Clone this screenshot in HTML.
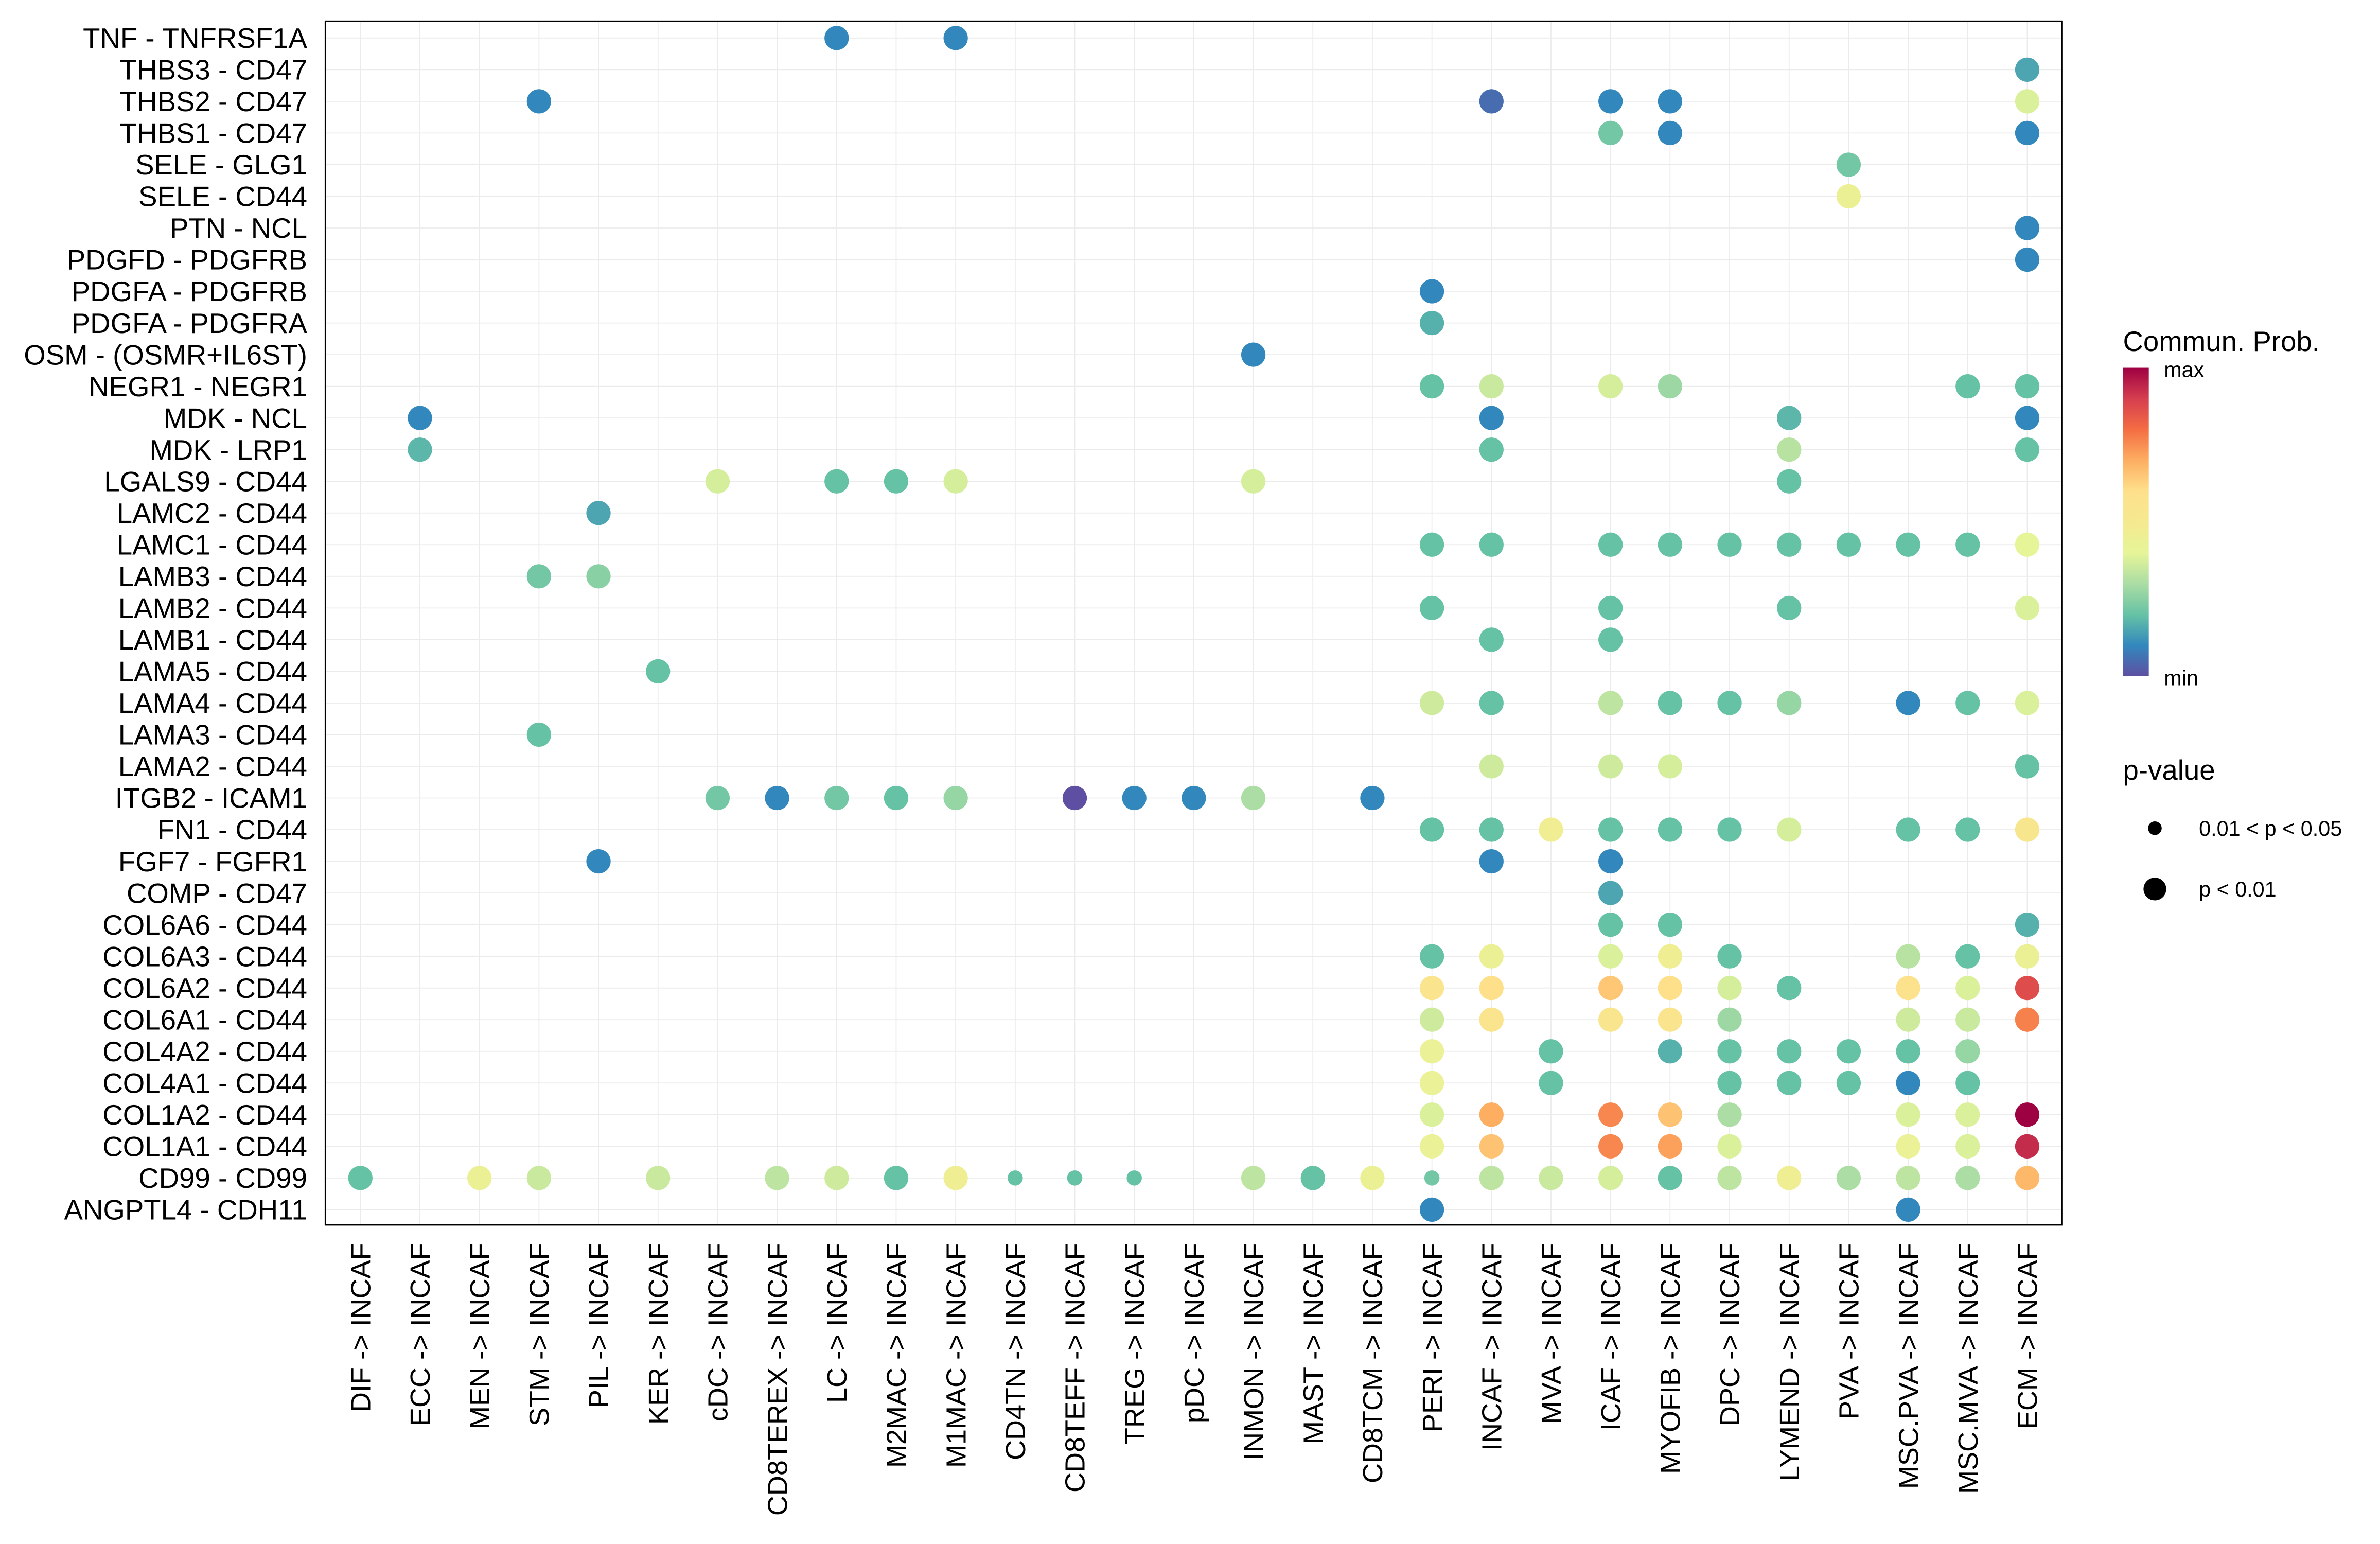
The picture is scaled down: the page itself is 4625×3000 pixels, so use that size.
<!DOCTYPE html>
<html><head><meta charset="utf-8"><style>
html,body{margin:0;padding:0;background:#fff;}
svg{display:block;font-family:"Liberation Sans",Arial,sans-serif;}
</style></head><body>
<svg id="chart" width="4625" height="3000" viewBox="0 0 1566 1016" xmlns="http://www.w3.org/2000/svg">
<defs>
<linearGradient id="cbar" x1="0" y1="1" x2="0" y2="0">
<stop offset="0" stop-color="#5e4fa2"/><stop offset="0.1" stop-color="#3288bd"/><stop offset="0.2" stop-color="#66c2a5"/><stop offset="0.3" stop-color="#abdda4"/><stop offset="0.4" stop-color="#e6f598"/><stop offset="0.5" stop-color="#f5e990"/><stop offset="0.6" stop-color="#fee08b"/><stop offset="0.7" stop-color="#fdae61"/><stop offset="0.8" stop-color="#f46d43"/><stop offset="0.9" stop-color="#d53e4f"/><stop offset="1" stop-color="#9e0142"/>
</linearGradient>
</defs>
<g id="grid"></g>
<rect x="214" y="14" width="1143" height="792" fill="none" stroke="#000" stroke-width="1"/>
<g id="dots"></g>
<g id="ylabels"></g>
<g id="xlabels"></g>
<g>
<text x="1397" y="231" font-size="18.5">Commun. Prob.</text>
<rect x="1397" y="242" width="17" height="203" fill="url(#cbar)"/>
<text x="1424" y="248" font-size="14">max</text>
<text x="1424" y="451" font-size="14">min</text>
</g>
<g>
<text x="1397" y="513" font-size="18.5">p-value</text>
<circle cx="1418" cy="545" r="4.5" fill="#000"/>
<text x="1447" y="550" font-size="14">0.01 &lt; p &lt; 0.05</text>
<circle cx="1418" cy="585" r="7.5" fill="#000"/>
<text x="1447" y="590" font-size="14">p &lt; 0.01</text>
</g>
</svg>
<script>
const columns = ["DIF","ECC","MEN","STM","PIL","KER","cDC","CD8TEREX","LC","M2MAC","M1MAC","CD4TN","CD8TEFF","TREG","pDC","INMON","MAST","CD8TCM","PERI","INCAF","MVA","ICAF","MYOFIB","DPC","LYMEND","PVA","MSC.PVA","MSC.MVA","ECM"];
const rows = ["TNF - TNFRSF1A","THBS3 - CD47","THBS2 - CD47","THBS1 - CD47","SELE - GLG1","SELE - CD44","PTN - NCL","PDGFD - PDGFRB","PDGFA - PDGFRB","PDGFA - PDGFRA","OSM - (OSMR+IL6ST)","NEGR1 - NEGR1","MDK - NCL","MDK - LRP1","LGALS9 - CD44","LAMC2 - CD44","LAMC1 - CD44","LAMB3 - CD44","LAMB2 - CD44","LAMB1 - CD44","LAMA5 - CD44","LAMA4 - CD44","LAMA3 - CD44","LAMA2 - CD44","ITGB2 - ICAM1","FN1 - CD44","FGF7 - FGFR1","COMP - CD47","COL6A6 - CD44","COL6A3 - CD44","COL6A2 - CD44","COL6A1 - CD44","COL4A2 - CD44","COL4A1 - CD44","COL1A2 - CD44","COL1A1 - CD44","CD99 - CD99","ANGPTL4 - CDH11"];
// [row, column, probability (0..1), significant p<0.01 ? 1 : 0]
const points = [
["TNF - TNFRSF1A","LC",.1,1],["TNF - TNFRSF1A","M1MAC",.1,1],
["THBS3 - CD47","ECM",.15,1],
["THBS2 - CD47","STM",.1,1],["THBS2 - CD47","INCAF",.05,1],["THBS2 - CD47","ICAF",.1,1],["THBS2 - CD47","MYOFIB",.1,1],["THBS2 - CD47","ECM",.38,1],
["THBS1 - CD47","ICAF",.22,1],["THBS1 - CD47","MYOFIB",.1,1],["THBS1 - CD47","ECM",.1,1],
["SELE - GLG1","PVA",.22,1],["SELE - CD44","PVA",.44,1],
["PTN - NCL","ECM",.1,1],["PDGFD - PDGFRB","ECM",.1,1],
["PDGFA - PDGFRB","PERI",.1,1],["PDGFA - PDGFRA","PERI",.17,1],
["OSM - (OSMR+IL6ST)","INMON",.1,1],
["NEGR1 - NEGR1","PERI",.2,1],["NEGR1 - NEGR1","INCAF",.35,1],["NEGR1 - NEGR1","ICAF",.37,1],["NEGR1 - NEGR1","MYOFIB",.28,1],["NEGR1 - NEGR1","MSC.MVA",.2,1],["NEGR1 - NEGR1","ECM",.2,1],
["MDK - NCL","ECC",.1,1],["MDK - NCL","INCAF",.1,1],["MDK - NCL","LYMEND",.18,1],["MDK - NCL","ECM",.1,1],
["MDK - LRP1","ECC",.18,1],["MDK - LRP1","INCAF",.2,1],["MDK - LRP1","LYMEND",.32,1],["MDK - LRP1","ECM",.2,1],
["LGALS9 - CD44","cDC",.37,1],["LGALS9 - CD44","LC",.2,1],["LGALS9 - CD44","M2MAC",.2,1],["LGALS9 - CD44","M1MAC",.37,1],["LGALS9 - CD44","INMON",.37,1],["LGALS9 - CD44","LYMEND",.2,1],
["LAMC2 - CD44","PIL",.15,1],
["LAMC1 - CD44","PERI",.2,1],["LAMC1 - CD44","INCAF",.2,1],["LAMC1 - CD44","ICAF",.2,1],["LAMC1 - CD44","MYOFIB",.2,1],["LAMC1 - CD44","DPC",.2,1],["LAMC1 - CD44","LYMEND",.2,1],["LAMC1 - CD44","PVA",.2,1],["LAMC1 - CD44","MSC.PVA",.2,1],["LAMC1 - CD44","MSC.MVA",.2,1],["LAMC1 - CD44","ECM",.4,1],
["LAMB3 - CD44","STM",.22,1],["LAMB3 - CD44","PIL",.25,1],
["LAMB2 - CD44","PERI",.2,1],["LAMB2 - CD44","ICAF",.2,1],["LAMB2 - CD44","LYMEND",.2,1],["LAMB2 - CD44","ECM",.38,1],
["LAMB1 - CD44","INCAF",.2,1],["LAMB1 - CD44","ICAF",.2,1],
["LAMA5 - CD44","KER",.2,1],
["LAMA4 - CD44","PERI",.36,1],["LAMA4 - CD44","INCAF",.2,1],["LAMA4 - CD44","ICAF",.33,1],["LAMA4 - CD44","MYOFIB",.2,1],["LAMA4 - CD44","DPC",.2,1],["LAMA4 - CD44","LYMEND",.27,1],["LAMA4 - CD44","MSC.PVA",.1,1],["LAMA4 - CD44","MSC.MVA",.2,1],["LAMA4 - CD44","ECM",.38,1],
["LAMA3 - CD44","STM",.2,1],
["LAMA2 - CD44","INCAF",.36,1],["LAMA2 - CD44","ICAF",.36,1],["LAMA2 - CD44","MYOFIB",.37,1],["LAMA2 - CD44","ECM",.2,1],
["ITGB2 - ICAM1","cDC",.22,1],["ITGB2 - ICAM1","CD8TEREX",.1,1],["ITGB2 - ICAM1","LC",.22,1],["ITGB2 - ICAM1","M2MAC",.2,1],["ITGB2 - ICAM1","M1MAC",.27,1],["ITGB2 - ICAM1","CD8TEFF",0,1],["ITGB2 - ICAM1","TREG",.1,1],["ITGB2 - ICAM1","pDC",.1,1],["ITGB2 - ICAM1","INMON",.3,1],["ITGB2 - ICAM1","CD8TCM",.1,1],
["FN1 - CD44","PERI",.2,1],["FN1 - CD44","INCAF",.2,1],["FN1 - CD44","MVA",.47,1],["FN1 - CD44","ICAF",.2,1],["FN1 - CD44","MYOFIB",.2,1],["FN1 - CD44","DPC",.2,1],["FN1 - CD44","LYMEND",.37,1],["FN1 - CD44","MSC.PVA",.2,1],["FN1 - CD44","MSC.MVA",.2,1],["FN1 - CD44","ECM",.53,1],
["FGF7 - FGFR1","PIL",.1,1],["FGF7 - FGFR1","INCAF",.1,1],["FGF7 - FGFR1","ICAF",.1,1],
["COMP - CD47","ICAF",.15,1],
["COL6A6 - CD44","ICAF",.2,1],["COL6A6 - CD44","MYOFIB",.2,1],["COL6A6 - CD44","ECM",.17,1],
["COL6A3 - CD44","PERI",.2,1],["COL6A3 - CD44","INCAF",.44,1],["COL6A3 - CD44","ICAF",.38,1],["COL6A3 - CD44","MYOFIB",.46,1],["COL6A3 - CD44","DPC",.2,1],["COL6A3 - CD44","MSC.PVA",.32,1],["COL6A3 - CD44","MSC.MVA",.2,1],["COL6A3 - CD44","ECM",.44,1],
["COL6A2 - CD44","PERI",.56,1],["COL6A2 - CD44","INCAF",.6,1],["COL6A2 - CD44","ICAF",.65,1],["COL6A2 - CD44","MYOFIB",.6,1],["COL6A2 - CD44","DPC",.37,1],["COL6A2 - CD44","LYMEND",.2,1],["COL6A2 - CD44","MSC.PVA",.58,1],["COL6A2 - CD44","MSC.MVA",.38,1],["COL6A2 - CD44","ECM",.87,1],
["COL6A1 - CD44","PERI",.36,1],["COL6A1 - CD44","INCAF",.56,1],["COL6A1 - CD44","ICAF",.54,1],["COL6A1 - CD44","MYOFIB",.55,1],["COL6A1 - CD44","DPC",.28,1],["COL6A1 - CD44","MSC.PVA",.36,1],["COL6A1 - CD44","MSC.MVA",.35,1],["COL6A1 - CD44","ECM",.77,1],
["COL4A2 - CD44","PERI",.43,1],["COL4A2 - CD44","MVA",.2,1],["COL4A2 - CD44","MYOFIB",.17,1],["COL4A2 - CD44","DPC",.2,1],["COL4A2 - CD44","LYMEND",.2,1],["COL4A2 - CD44","PVA",.2,1],["COL4A2 - CD44","MSC.PVA",.2,1],["COL4A2 - CD44","MSC.MVA",.27,1],
["COL4A1 - CD44","PERI",.43,1],["COL4A1 - CD44","MVA",.2,1],["COL4A1 - CD44","DPC",.2,1],["COL4A1 - CD44","LYMEND",.2,1],["COL4A1 - CD44","PVA",.2,1],["COL4A1 - CD44","MSC.PVA",.1,1],["COL4A1 - CD44","MSC.MVA",.2,1],
["COL1A2 - CD44","PERI",.38,1],["COL1A2 - CD44","INCAF",.7,1],["COL1A2 - CD44","ICAF",.76,1],["COL1A2 - CD44","MYOFIB",.66,1],["COL1A2 - CD44","DPC",.3,1],["COL1A2 - CD44","MSC.PVA",.38,1],["COL1A2 - CD44","MSC.MVA",.38,1],["COL1A2 - CD44","ECM",1,1],
["COL1A1 - CD44","PERI",.43,1],["COL1A1 - CD44","INCAF",.66,1],["COL1A1 - CD44","ICAF",.76,1],["COL1A1 - CD44","MYOFIB",.72,1],["COL1A1 - CD44","DPC",.38,1],["COL1A1 - CD44","MSC.PVA",.43,1],["COL1A1 - CD44","MSC.MVA",.38,1],["COL1A1 - CD44","ECM",.93,1],
["CD99 - CD99","DIF",.2,1],["CD99 - CD99","MEN",.44,1],["CD99 - CD99","STM",.35,1],["CD99 - CD99","KER",.35,1],["CD99 - CD99","CD8TEREX",.33,1],["CD99 - CD99","LC",.36,1],["CD99 - CD99","M2MAC",.2,1],["CD99 - CD99","M1MAC",.46,1],["CD99 - CD99","CD4TN",.2,0],["CD99 - CD99","CD8TEFF",.2,0],["CD99 - CD99","TREG",.2,0],["CD99 - CD99","INMON",.33,1],["CD99 - CD99","MAST",.2,1],["CD99 - CD99","CD8TCM",.44,1],["CD99 - CD99","PERI",.22,0],["CD99 - CD99","INCAF",.33,1],["CD99 - CD99","MVA",.35,1],["CD99 - CD99","ICAF",.37,1],["CD99 - CD99","MYOFIB",.2,1],["CD99 - CD99","DPC",.33,1],["CD99 - CD99","LYMEND",.46,1],["CD99 - CD99","PVA",.3,1],["CD99 - CD99","MSC.PVA",.33,1],["CD99 - CD99","MSC.MVA",.3,1],["CD99 - CD99","ECM",.68,1],
["ANGPTL4 - CDH11","PERI",.1,1],["ANGPTL4 - CDH11","MSC.PVA",.1,1]
];
const palette = ["#5e4fa2","#3288bd","#66c2a5","#abdda4","#e6f598","#f5e990","#fee08b","#fdae61","#f46d43","#d53e4f","#9e0142"];
const NS="http://www.w3.org/2000/svg";
const xScale = i => 237 + i*(1334-237)/(columns.length-1);
const yScale = i => 25 + i*(796-25)/(rows.length-1);
function color(v){
  const t=Math.max(0,Math.min(1,v))*10, i=Math.min(9,Math.floor(t)), f=t-i;
  const a=palette[i], b=palette[i+1];
  const p=(h,k)=>parseInt(h.substr(1+2*k,2),16);
  let c=[0,1,2].map(k=>Math.round(p(a,k)+(p(b,k)-p(a,k))*f));
  return "rgb("+c.join(",")+")";
}
const grid=document.getElementById("grid");
columns.forEach((c,i)=>{
  const l=document.createElementNS(NS,"line");
  
  
  l.setAttribute("x1",xScale(i));l.setAttribute("x2",xScale(i));l.setAttribute("y1",14);l.setAttribute("y2",806);
  l.setAttribute("stroke","#ebebeb");l.setAttribute("stroke-width","0.6");grid.appendChild(l);
  const t=document.createElementNS(NS,"text");
  
  
  t.setAttribute("transform","translate("+(xScale(i)+6.5)+",818) rotate(-90)");
  t.setAttribute("text-anchor","end");t.setAttribute("font-size","18.3");
  t.textContent=c+" -> INCAF";document.getElementById("xlabels").appendChild(t);
});
rows.forEach((r,i)=>{
  const l=document.createElementNS(NS,"line");
  
  
  l.setAttribute("x1",214);l.setAttribute("x2",1357);l.setAttribute("y1",yScale(i));l.setAttribute("y2",yScale(i));
  l.setAttribute("stroke","#ebebeb");l.setAttribute("stroke-width","0.6");grid.appendChild(l);
  const t=document.createElementNS(NS,"text");
  
  
  t.setAttribute("x",202);t.setAttribute("y",yScale(i)+6.5);
  t.setAttribute("text-anchor","end");t.setAttribute("font-size","18.5");
  t.textContent=r;document.getElementById("ylabels").appendChild(t);
});
const dots=document.getElementById("dots");
points.forEach(p=>{
  const c=document.createElementNS(NS,"circle");
  
  
  c.setAttribute("cx",xScale(columns.indexOf(p[1])));
  c.setAttribute("cy",yScale(rows.indexOf(p[0])));
  c.setAttribute("r",p[3]?8:5);
  c.setAttribute("fill",color(p[2]));
  dots.appendChild(c);
});
</script>
</body></html>
